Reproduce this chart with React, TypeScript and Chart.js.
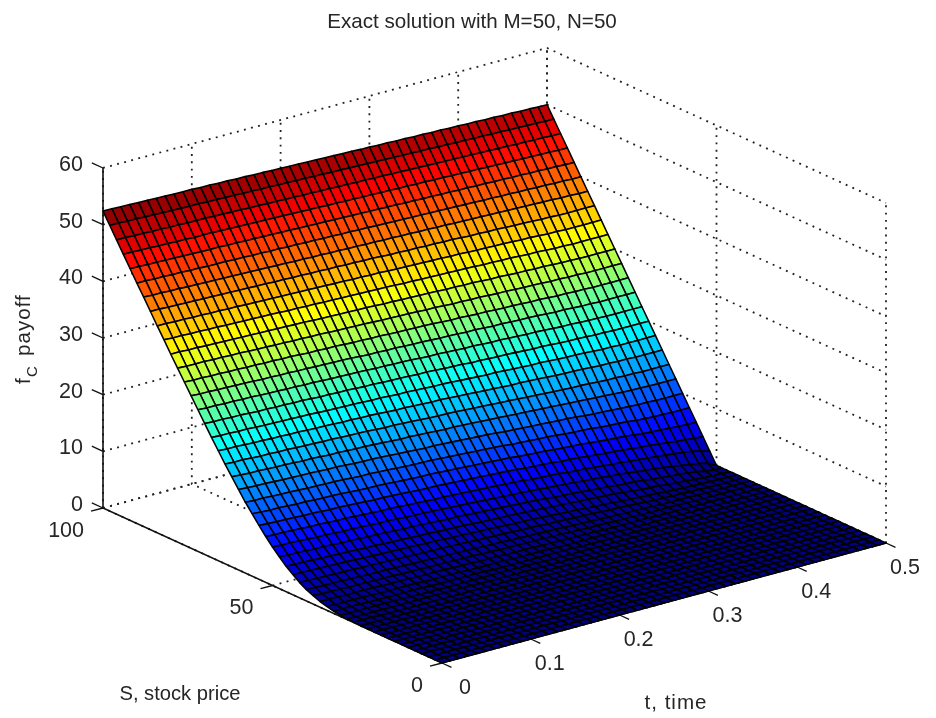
import React, { useEffect, useRef } from "react";
import { Chart, registerables } from "chart.js";

Chart.register(...registerables);

const titleText = "Exact solution with M=50, N=50";
const stockValues = [0,2,4,6,8,10,12,14,16,18,20,22,24,26,28,30,32,34,36,38,40,42,44,46,48,50,52,54,56,58,60,62,64,66,68,70,72,74,76,78,80,82,84,86,88,90,92,94,96,98,100];
const timeValues = [0,.01,.02,.03,.04,.05,.06,.07,.08,.09,.1,.11,.12,.13,.14,.15,.16,.17,.18,.19,.2,.21,.22,.23,.24,.25,.26,.27,.28,.29,.3,.31,.32,.33,.34,.35,.36,.37,.38,.39,.4,.41,.42,.43,.44,.45,.46,.47,.48,.49,.5];
const zTicks = [0,10,20,30,40,50,60];
const stockTicks = [0,50,100];
const timeTicks = [0,.1,.2,.3,.4,.5];
const timeTickLabels = ["0","0.1","0.2","0.3","0.4","0.5"];

const none = [0,0,0,0,0,0,0,0,0,0,0,0,0,0,0,0,0,0,0,0,0,0,0,0,0,0,0,0,0,0,0,0,0,0,0,0,0,0,0,0,0,0,0,0,0,0,0,0,0,0,0];
// one row per stock price, one value per time step
const payoffRows = [
none,none,none,none,none,none,none,none,none,none,none,none,none,
[.1,.1,.1,0,0,0,0,0,0,0,0,0,0,0,0,0,0,0,0,0,0,0,0,0,0,0,0,0,0,0,0,0,0,0,0,0,0,0,0,0,0,0,0,0,0,0,0,0,0,0,0],
[.1,.1,.1,.1,.1,.1,.1,.1,.1,.1,.1,.1,.1,.1,.1,0,0,0,0,0,0,0,0,0,0,0,0,0,0,0,0,0,0,0,0,0,0,0,0,0,0,0,0,0,0,0,0,0,0,0,0],
[.2,.2,.2,.2,.2,.2,.2,.2,.1,.1,.1,.1,.1,.1,.1,.1,.1,.1,.1,.1,.1,.1,.1,0,0,0,0,0,0,0,0,0,0,0,0,0,0,0,0,0,0,0,0,0,0,0,0,0,0,0,0],
[.4,.4,.4,.4,.3,.3,.3,.3,.3,.3,.3,.2,.2,.2,.2,.2,.2,.2,.1,.1,.1,.1,.1,.1,.1,.1,.1,.1,0,0,0,0,0,0,0,0,0,0,0,0,0,0,0,0,0,0,0,0,0,0,0],
[.7,.6,.6,.6,.6,.6,.5,.5,.5,.5,.5,.4,.4,.4,.4,.4,.3,.3,.3,.3,.3,.2,.2,.2,.2,.2,.1,.1,.1,.1,.1,.1,.1,0,0,0,0,0,0,0,0,0,0,0,0,0,0,0,0,0,0],
[1,1,1,.9,.9,.9,.9,.8,.8,.8,.8,.7,.7,.7,.7,.6,.6,.6,.5,.5,.5,.4,.4,.4,.4,.3,.3,.3,.2,.2,.2,.2,.1,.1,.1,.1,.1,.1,0,0,0,0,0,0,0,0,0,0,0,0,0],
[1.5,1.4,1.4,1.4,1.3,1.3,1.3,1.2,1.2,1.2,1.1,1.1,1.1,1,1,1,.9,.9,.9,.8,.8,.7,.7,.7,.6,.6,.6,.5,.5,.4,.4,.3,.3,.3,.2,.2,.2,.1,.1,.1,.1,.1,.1,0,0,0,0,0,0,0,0],
[2,2,1.9,1.9,1.9,1.8,1.8,1.7,1.7,1.7,1.6,1.6,1.5,1.5,1.5,1.4,1.4,1.3,1.3,1.2,1.2,1.1,1.1,1,1,.9,.9,.8,.8,.7,.6,.6,.5,.5,.4,.4,.3,.3,.2,.2,.1,.1,.1,.1,0,0,0,0,0,0,0],
[2.7,2.7,2.6,2.6,2.5,2.5,2.5,2.4,2.4,2.3,2.3,2.2,2.2,2.1,2.1,2,2,1.9,1.9,1.8,1.7,1.7,1.6,1.6,1.5,1.4,1.4,1.3,1.2,1.2,1.1,1,1,.9,.8,.7,.7,.6,.5,.4,.3,.3,.2,.2,.1,.1,0,0,0,0,0],
[3.6,3.5,3.5,3.4,3.4,3.3,3.3,3.2,3.1,3.1,3,3,2.9,2.9,2.8,2.7,2.7,2.6,2.5,2.5,2.4,2.3,2.3,2.2,2.1,2,2,1.9,1.8,1.7,1.6,1.5,1.4,1.3,1.2,1.1,1,.9,.8,.7,.6,.5,.4,.3,.2,.2,.1,.1,0,0,0],
[4.5,4.4,4.4,4.3,4.2,4.2,4.1,4.1,4,3.9,3.9,3.8,3.7,3.7,3.6,3.5,3.5,3.4,3.3,3.3,3.2,3.1,3,2.9,2.8,2.8,2.7,2.6,2.5,2.4,2.3,2.2,2.1,2,1.9,1.8,1.7,1.6,1.4,1.3,1.1,1,.9,.7,.6,.5,.3,.2,.1,.1,0],
[5.6,5.5,5.5,5.4,5.3,5.3,5.2,5.1,5.1,5,4.9,4.9,4.8,4.7,4.6,4.6,4.5,4.4,4.3,4.2,4.2,4.1,4,3.9,3.8,3.7,3.6,3.5,3.4,3.3,3.2,3,2.9,2.8,2.7,2.5,2.4,2.3,2.1,2,1.9,1.7,1.5,1.4,1.2,1.1,.9,.7,.4,.2,0],
[6.8,6.7,6.7,6.6,6.5,6.4,6.4,6.3,6.2,6.2,6.1,6,5.9,5.9,5.8,5.7,5.6,5.6,5.5,5.4,5.3,5.2,5.1,5,4.9,4.8,4.7,4.6,4.5,4.4,4.3,4.1,4,3.9,3.8,3.6,3.5,3.4,3.2,3.1,2.9,2.7,2.5,2.4,2.2,1.9,1.7,1.4,1.2,.8,0],
[8.1,8,8,7.9,7.8,7.7,7.7,7.6,7.5,7.5,7.4,7.3,7.2,7.1,7.1,7,6.9,6.8,6.7,6.6,6.6,6.5,6.4,6.3,6.2,6.1,6,5.9,5.8,5.7,5.5,5.4,5.3,5.2,5,4.9,4.8,4.6,4.5,4.3,4.2,4,3.9,3.7,3.6,3.4,3.2,3,2.8,2.4,2],
[9.5,9.4,9.3,9.3,9.2,9.1,9.1,9,8.9,8.9,8.8,8.7,8.6,8.5,8.5,8.4,8.3,8.2,8.1,8,8,7.9,7.8,7.7,7.6,7.5,7.4,7.3,7.2,7.1,6.9,6.8,6.7,6.6,6.4,6.3,6.2,6,5.9,5.7,5.6,5.4,5.3,5.1,5,4.8,4.6,4.4,4.3,4.1,4],
[11,10.9,10.8,10.8,10.7,10.6,10.6,10.5,10.4,10.4,10.3,10.2,10.1,10,10,9.9,9.8,9.7,9.6,9.5,9.5,9.4,9.3,9.2,9.1,9,8.9,8.8,8.7,8.6,8.4,8.3,8.2,8.1,7.9,7.8,7.7,7.6,7.4,7.3,7.1,7,6.9,6.7,6.5,6.4,6.3,6.2,6.1,6,6],
[12.5,12.4,12.4,12.3,12.2,12.2,12.1,12,12,11.9,11.9,11.8,11.7,11.6,11.6,11.5,11.4,11.3,11.2,11.1,11.1,11,10.9,10.8,10.7,10.6,10.5,10.4,10.3,10.2,10,9.9,9.8,9.7,9.6,9.5,9.3,9.2,9.1,9,8.8,8.7,8.6,8.5,8.3,8.2,8.1,8.1,8,8,8],
[14.2,14.1,14,14,13.9,13.8,13.8,13.7,13.7,13.6,13.5,13.5,13.4,13.3,13.2,13.2,13.1,13,12.9,12.8,12.7,12.6,12.6,12.5,12.4,12.3,12.2,12.1,12,11.9,11.7,11.6,11.5,11.4,11.3,11.2,11.1,11,10.9,10.7,10.6,10.5,10.4,10.3,10.2,10.1,10.1,10,10,10,10],
[15.9,15.8,15.7,15.7,15.6,15.5,15.5,15.4,15.3,15.3,15.2,15.1,15.1,15,14.9,14.9,14.8,14.7,14.6,14.5,14.5,14.4,14.3,14.2,14.1,14.1,14,13.9,13.8,13.7,13.6,13.5,13.4,13.3,13.2,13.1,13,12.9,12.8,12.7,12.6,12.5,12.4,12.3,12.2,12.1,12.1,12,12,12,12],
[17.6,17.5,17.5,17.4,17.3,17.3,17.2,17.2,17.1,17,17,16.9,16.9,16.8,16.7,16.7,16.6,16.5,16.4,16.4,16.3,16.2,16.1,16,15.9,15.9,15.8,15.7,15.6,15.5,15.4,15.3,15.2,15.1,15,14.9,14.8,14.7,14.6,14.5,14.5,14.4,14.3,14.2,14.2,14.1,14.1,14,14,14,14],
[19.4,19.3,19.3,19.2,19.1,19.1,19,19,18.9,18.9,18.8,18.7,18.7,18.6,18.5,18.5,18.4,18.4,18.3,18.2,18.1,18.1,18,17.9,17.8,17.8,17.7,17.6,17.5,17.4,17.3,17.2,17.1,17,17,16.9,16.8,16.7,16.6,16.5,16.5,16.4,16.3,16.2,16.2,16.1,16.1,16,16,16,16],
[21.2,21.1,21.1,21,21,20.9,20.8,20.8,20.7,20.7,20.6,20.6,20.5,20.4,20.4,20.3,20.3,20.2,20.1,20.1,20,19.9,19.9,19.8,19.7,19.6,19.6,19.5,19.4,19.3,19.2,19.1,19.1,19,18.9,18.8,18.7,18.7,18.6,18.5,18.4,18.4,18.3,18.2,18.1,18.1,18,18,18,18,18],
[23.1,23,23,22.9,22.9,22.8,22.7,22.7,22.6,22.6,22.5,22.5,22.4,22.3,22.3,22.2,22.2,22.1,22,22,21.9,21.8,21.8,21.7,21.6,21.6,21.5,21.4,21.3,21.3,21.1,21.1,21,20.9,20.9,20.8,20.7,20.6,20.6,20.5,20.4,20.3,20.3,20.2,20.1,20.1,20,20,20,20,20],
[25,24.9,24.9,24.8,24.8,24.7,24.7,24.6,24.5,24.5,24.4,24.4,24.3,24.3,24.2,24.1,24.1,24,24,23.9,23.8,23.8,23.7,23.7,23.6,23.5,23.4,23.4,23.3,23.2,23.1,23.1,23,22.9,22.9,22.8,22.7,22.6,22.6,22.5,22.4,22.3,22.3,22.2,22.1,22.1,22,22,22,22,22],
[26.9,26.8,26.8,26.7,26.7,26.6,26.6,26.5,26.4,26.4,26.3,26.3,26.2,26.2,26.1,26.1,26,26,25.9,25.8,25.7,25.7,25.6,25.6,25.5,25.4,25.4,25.3,25.2,25.2,25.1,25,25,24.9,24.8,24.8,24.7,24.6,24.6,24.5,24.4,24.3,24.3,24.2,24.1,24.1,24,24,24,24,24],
[28.8,28.7,28.7,28.6,28.6,28.5,28.5,28.4,28.4,28.3,28.3,28.2,28.2,28.1,28,28,27.9,27.9,27.8,27.7,27.7,27.6,27.6,27.5,27.4,27.4,27.3,27.3,27.2,27.1,27,27,26.9,26.8,26.8,26.7,26.6,26.6,26.5,26.4,26.4,26.3,26.2,26.2,26.1,26.1,26,26,26,26,26],
[30.7,30.6,30.6,30.6,30.5,30.5,30.4,30.4,30.3,30.2,30.2,30.1,30.1,30,30,29.9,29.9,29.8,29.7,29.7,29.6,29.6,29.5,29.4,29.4,29.3,29.3,29.2,29.1,29.1,29,28.9,28.9,28.8,28.8,28.7,28.6,28.6,28.5,28.4,28.4,28.3,28.2,28.2,28.1,28.1,28,28,28,28,28],
[32.6,32.6,32.5,32.5,32.4,32.4,32.3,32.3,32.2,32.2,32.1,32.1,32,32,31.9,31.9,31.8,31.7,31.7,31.6,31.6,31.5,31.5,31.4,31.3,31.3,31.2,31.2,31.1,31.1,31,30.9,30.9,30.8,30.8,30.7,30.6,30.6,30.5,30.4,30.4,30.3,30.3,30.2,30.1,30.1,30,30,30,30,30],
[34.6,34.5,34.5,34.4,34.4,34.3,34.3,34.2,34.2,34.1,34.1,34,34,33.9,33.8,33.8,33.7,33.7,33.6,33.6,33.5,33.5,33.4,33.4,33.3,33.3,33.2,33.1,33.1,33,33,32.9,32.9,32.8,32.8,32.7,32.6,32.6,32.5,32.5,32.4,32.3,32.3,32.2,32.1,32.1,32,32,32,32,32],
[36.5,36.5,36.4,36.4,36.3,36.3,36.2,36.2,36.1,36.1,36,36,35.9,35.9,35.8,35.8,35.7,35.7,35.6,35.6,35.5,35.5,35.4,35.4,35.3,35.3,35.2,35.1,35.1,35,35,34.9,34.9,34.8,34.8,34.7,34.6,34.6,34.5,34.5,34.4,34.3,34.3,34.2,34.1,34.1,34,34,34,34,34],
[38.5,38.5,38.4,38.4,38.3,38.3,38.2,38.2,38.1,38.1,38,38,37.9,37.9,37.8,37.8,37.7,37.7,37.6,37.6,37.5,37.5,37.4,37.4,37.3,37.3,37.2,37.1,37.1,37,37,36.9,36.9,36.8,36.8,36.7,36.6,36.6,36.5,36.5,36.4,36.3,36.3,36.2,36.1,36.1,36,36,36,36,36],
[40.5,40.4,40.4,40.3,40.3,40.2,40.2,40.1,40.1,40,40,39.9,39.9,39.8,39.8,39.7,39.7,39.6,39.6,39.5,39.5,39.4,39.4,39.3,39.3,39.2,39.2,39.1,39.1,39,39,38.9,38.9,38.8,38.8,38.7,38.7,38.6,38.6,38.5,38.5,38.4,38.4,38.3,38.3,38.2,38.2,38.1,38.1,38,38],
[42.4,42.4,42.3,42.3,42.2,42.2,42.1,42.1,42,42,42,41.9,41.9,41.8,41.8,41.7,41.7,41.6,41.6,41.5,41.5,41.4,41.4,41.3,41.3,41.2,41.2,41.1,41.1,41,41,40.9,40.9,40.8,40.8,40.7,40.7,40.6,40.6,40.5,40.5,40.4,40.4,40.3,40.3,40.2,40.2,40.1,40.1,40,40],
[44.4,44.4,44.3,44.3,44.2,44.2,44.1,44.1,44,44,44,43.9,43.9,43.8,43.8,43.7,43.7,43.6,43.6,43.5,43.5,43.4,43.4,43.3,43.3,43.2,43.2,43.1,43.1,43,43,42.9,42.9,42.8,42.8,42.7,42.7,42.6,42.6,42.5,42.5,42.4,42.4,42.3,42.3,42.2,42.2,42.1,42.1,42,42],
[46.4,46.4,46.3,46.3,46.2,46.2,46.1,46.1,46,46,46,45.9,45.9,45.8,45.8,45.7,45.7,45.6,45.6,45.5,45.5,45.4,45.4,45.3,45.3,45.2,45.2,45.1,45.1,45,45,44.9,44.9,44.8,44.8,44.7,44.7,44.6,44.6,44.5,44.5,44.4,44.4,44.3,44.3,44.2,44.2,44.1,44.1,44,44],
[48.4,48.4,48.3,48.3,48.2,48.2,48.1,48.1,48,48,48,47.9,47.9,47.8,47.8,47.7,47.7,47.6,47.6,47.5,47.5,47.4,47.4,47.3,47.3,47.2,47.2,47.1,47.1,47,47,46.9,46.9,46.8,46.8,46.7,46.7,46.6,46.6,46.5,46.5,46.4,46.4,46.3,46.3,46.2,46.2,46.1,46.1,46,46],
[50.4,50.4,50.3,50.3,50.2,50.2,50.1,50.1,50,50,50,49.9,49.9,49.8,49.8,49.7,49.7,49.6,49.6,49.5,49.5,49.4,49.4,49.3,49.3,49.2,49.2,49.1,49.1,49,49,48.9,48.9,48.8,48.8,48.7,48.7,48.6,48.6,48.5,48.5,48.4,48.4,48.3,48.3,48.2,48.2,48.1,48.1,48,48],
[52.4,52.4,52.3,52.3,52.2,52.2,52.1,52.1,52,52,52,51.9,51.9,51.8,51.8,51.7,51.7,51.6,51.6,51.5,51.5,51.4,51.4,51.3,51.3,51.2,51.2,51.1,51.1,51,51,50.9,50.9,50.8,50.8,50.7,50.7,50.6,50.6,50.5,50.5,50.4,50.4,50.3,50.3,50.2,50.2,50.1,50.1,50,50],
];

// orthographic view of the (S, t, z) box onto the scatter scales
const project = (s: number, t: number, z: number) => ({
  x: 442 - 3.39 * s + 888 * t,
  y: 663 - 1.55 * s - 240 * t - 5.667 * z,
});

const jet = (v: number) => {
  const c = Math.max(0, Math.min(1, v));
  const ch = (d: number) => Math.round(255 * Math.max(0, Math.min(1, 1.5 - Math.abs(4 * c - d))));
  return `rgb(${ch(3)},${ch(2)},${ch(1)})`;
};

const lineSet = (pts: { x: number; y: number }[], color: string, width: number, dash: number[] = []) => ({
  data: pts, showLine: true, fill: false, pointRadius: 0, borderColor: color, borderWidth: width, borderDash: dash,
  borderCapStyle: "butt", clip: false,
});

function buildDatasets() {
  const sets: any[] = [];
  const maxZ = payoffRows[50][0];
  for (let i = 0; i < stockValues.length - 1; i++) {
    for (let j = 0; j < timeValues.length - 1; j++) {
      const a = project(stockValues[i], timeValues[j], payoffRows[i][j]);
      const b = project(stockValues[i + 1], timeValues[j], payoffRows[i + 1][j]);
      const c = project(stockValues[i + 1], timeValues[j + 1], payoffRows[i + 1][j + 1]);
      const d = project(stockValues[i], timeValues[j + 1], payoffRows[i][j + 1]);
      const mean = (payoffRows[i][j] + payoffRows[i + 1][j] + payoffRows[i + 1][j + 1] + payoffRows[i][j + 1]) / 4;
      sets.push({
        data: [a, b, c, d, a], showLine: true, fill: "shape", backgroundColor: jet(mean / maxZ),
        borderColor: "#000", borderWidth: 1.55, borderJoinStyle: "round", pointRadius: 0, clip: false,
      });
    }
  }
  const axisColor = "#111";
  // solid axes and tick marks
  sets.push(lineSet([project(100, 0, 0), project(0, 0, 0), project(0, 0.5, 0)], axisColor, 1.4));
  sets.push(lineSet([project(100, 0, 0), project(100, 0, 60)], axisColor, 1.6));
  for (const z of zTicks) sets.push(lineSet([project(100, 0, z), project(103.3, 0, z)], axisColor, 1.3));
  for (const s of stockTicks) sets.push(lineSet([project(s, 0, 0), project(s, -0.0135, 0)], axisColor, 1.3));
  for (const t of timeTicks) sets.push(lineSet([project(0, t, 0), project(-2.8, t, 0)], axisColor, 1.3));
  // dotted box and grid
  const dots = [1.9, 5.4];
  const dotColor = "#222";
  for (const z of zTicks) {
    sets.push(lineSet([project(100, 0, z), project(100, 0.5, z), project(0, 0.5, z)], dotColor, 1.8, dots));
  }
  for (const t of timeTicks) {
    sets.push(lineSet([project(0, t, 0), project(100, t, 0), project(100, t, 60)], dotColor, 1.8, dots));
  }
  for (const s of stockTicks) {
    sets.push(lineSet([project(s, 0, 0), project(s, 0.5, 0), project(s, 0.5, 60)], dotColor, 1.8, dots));
  }
  return sets;
}

const textPlugin = {
  id: "axisText",
  afterDraw(chart: any) {
    const { ctx, scales } = chart;
    const px = (p: { x: number; y: number }) => ({ x: scales.x.getPixelForValue(p.x), y: scales.y.getPixelForValue(p.y) });
    ctx.save();
    ctx.fillStyle = "#262626";
    ctx.textBaseline = "middle";
    ctx.font = "20.6px 'Liberation Sans'";
    ctx.textAlign = "center";
    ctx.fillText(titleText, 472, 22);
    ctx.font = "21.5px 'Liberation Sans'";
    ctx.textAlign = "right";
    for (const z of zTicks) {
      const p = px(project(100, 0, z));
      ctx.fillText(String(z), p.x - 20, p.y - 3);
    }
    for (const s of stockTicks) {
      const p = px(project(s, 0, 0));
      ctx.fillText(String(s), p.x - 19, p.y + 23);
    }
    ctx.textAlign = "center";
    timeTicks.forEach((t, k) => {
      const p = px(project(0, t, 0));
      ctx.fillText(timeTickLabels[k], p.x + (k === 0 ? 23 : 19), p.y + 25);
    });
    ctx.font = "20.2px 'Liberation Sans'";
    ctx.fillText("S, stock price", 180, 694);
    ctx.font = "20.6px 'Liberation Sans'";
    ctx.letterSpacing = "1px";
    ctx.fillText("t, time", 676, 703);
    ctx.translate(24, 384);
    ctx.rotate(-Math.PI / 2);
    ctx.textAlign = "left";
    ctx.fillText("f", 0, 0);
    ctx.letterSpacing = "0px";
    ctx.font = "15px 'Liberation Sans'";
    ctx.fillText("C", 7, 9);
    ctx.font = "20.6px 'Liberation Sans'";
    ctx.letterSpacing = "1px";
    ctx.fillText("payoff", 28, 0);
    ctx.restore();
  },
};

export default function App() {
  const ref = useRef<HTMLCanvasElement>(null);
  useEffect(() => {
    const chart = new Chart(ref.current as HTMLCanvasElement, {
      type: "scatter",
      data: { datasets: buildDatasets() },
      options: {
        animation: false,
        responsive: false,
        events: [],
        layout: { padding: 0 },
        plugins: { legend: { display: false }, tooltip: { enabled: false } },
        scales: {
          x: { type: "linear", display: false, min: 0, max: 936 },
          y: { type: "linear", display: false, min: 0, max: 718, reverse: true },
        },
      },
      plugins: [textPlugin],
    } as any);
    return () => chart.destroy();
  }, []);
  return (
    <canvas
      ref={ref}
      width={936}
      height={718}
      style={{ position: "fixed", left: 0, top: 0, display: "block", background: "#fff" }}
    />
  );
}
